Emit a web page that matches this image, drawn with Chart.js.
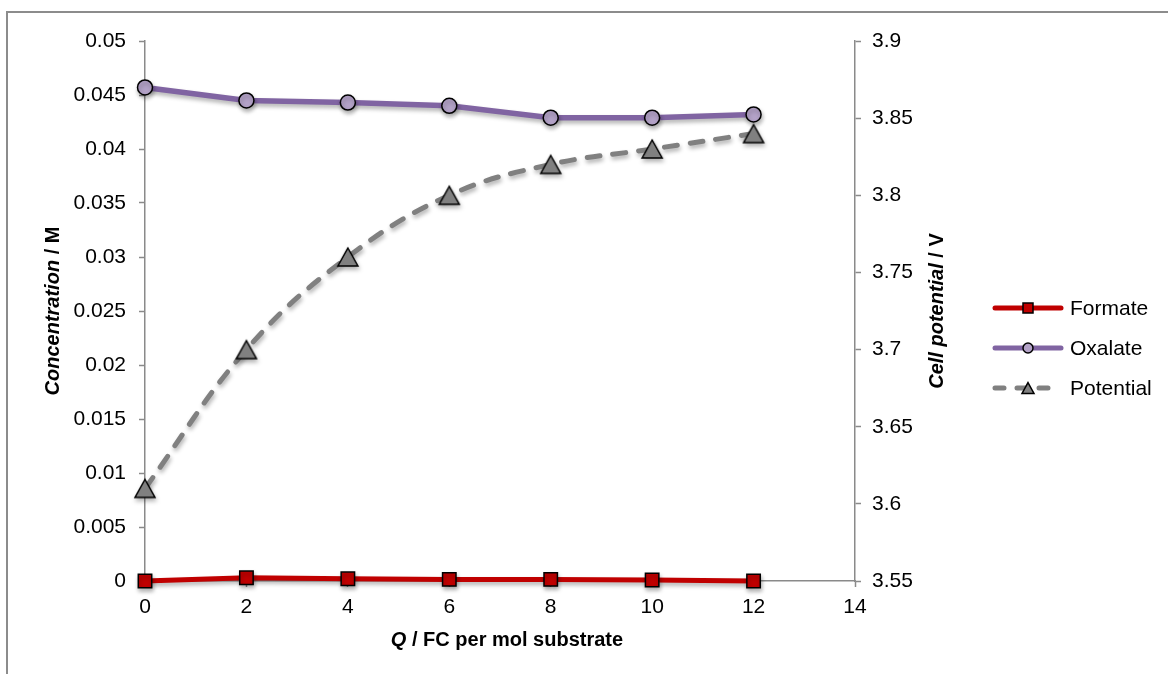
<!DOCTYPE html>
<html lang="en">
<head>
    <meta charset="UTF-8">
    <title>Concentration and cell potential vs charge</title>
    <script src="https://cdn.jsdelivr.net/npm/chart.js"></script>
    <style>
        html, body { margin: 0; padding: 0; background: #fff; }
        canvas { display: block; }
    </style>
</head>
<body>
    <canvas id="chart" width="1168" height="674"></canvas>

    <script>
        // Data
        const charge = [0, 2, 4, 6, 8, 10, 12];
        const formate = [0, 0.0003, 0.0002, 0.00015, 0.00015, 0.0001, 0];
        const oxalate = [0.0457, 0.0445, 0.0443, 0.0440, 0.0429, 0.0429, 0.0432];
        const potential = [3.61, 3.70, 3.76, 3.80, 3.82, 3.83, 3.84];

        const seriesNames = ['Formate', 'Oxalate', 'Potential'];
        const xTicks = [0, 2, 4, 6, 8, 10, 12, 14];
        const concTicks = [0, 0.005, 0.01, 0.015, 0.02, 0.025, 0.03, 0.035, 0.04, 0.045, 0.05];
        const potTicks = [3.55, 3.6, 3.65, 3.7, 3.75, 3.8, 3.85, 3.9];

        const FONT = '"Liberation Sans", Arial, sans-serif';
        const axisGrey = '#8a8a8a';
        const colors = {
            formate: '#C00000',
            oxalate: '#8064A2',
            oxalateFill: '#B3A2C7',
            potential: '#808080'
        };

        Chart.defaults.font.family = FONT;
        Chart.defaults.font.size = 21;
        Chart.defaults.color = '#000';

        const toPoints = values => charge.map((x, i) => ({ x: x, y: values[i] }));
        const fmt = v => String(+Number(v).toFixed(4));

        // Soft shadow under lines and markers, like the original
        const shadowPlugin = {
            id: 'shadow',
            beforeDatasetDraw(chart) {
                const ctx = chart.ctx;
                ctx.save();
                ctx.shadowColor = 'rgba(0,0,0,0.3)';
                ctx.shadowBlur = 4;
                ctx.shadowOffsetX = 1;
                ctx.shadowOffsetY = 3;
            },
            afterDatasetDraw(chart) {
                chart.ctx.restore();
            }
        };

        function drawMarker(ctx, style, x, y, size, fill) {
            ctx.beginPath();
            if (style === 'rect') {
                ctx.rect(x - size / 2, y - size / 2, size, size);
            } else if (style === 'circle') {
                ctx.arc(x, y, size / 2, 0, Math.PI * 2);
            } else {
                const h = size * 0.9;
                ctx.moveTo(x, y - h / 2);
                ctx.lineTo(x + size / 2, y + h / 2);
                ctx.lineTo(x - size / 2, y + h / 2);
                ctx.closePath();
            }
            ctx.fillStyle = fill;
            ctx.fill();
            ctx.lineWidth = 1.5;
            ctx.strokeStyle = '#000';
            ctx.stroke();
        }

        // triangle marker centred on its box, as in the original
        function triangleImage(size, fill) {
            const c = document.createElement('canvas');
            c.width = size + 4;
            c.height = size + 4;
            drawMarker(c.getContext('2d'), 'triangle', c.width / 2, c.height / 2, size, fill);
            return c;
        }

        // draws pieces of text with their own font, one after the other, centered on 0
        function drawMixed(ctx, parts) {
            let total = 0;
            parts.forEach(p => { ctx.font = p.font; total += ctx.measureText(p.text).width; });
            let x = -total / 2;
            parts.forEach(p => {
                ctx.font = p.font;
                ctx.fillText(p.text, x, 0);
                x += ctx.measureText(p.text).width;
            });
        }

        const decorPlugin = {
            id: 'decor',
            beforeDraw(chart) {
                const ctx = chart.ctx;
                ctx.save();
                ctx.strokeStyle = '#8c8c8c';
                ctx.lineWidth = 2;
                ctx.beginPath();
                ctx.moveTo(7, 700);
                ctx.lineTo(7, 12);
                ctx.lineTo(1200, 12);
                ctx.stroke();
                ctx.restore();
            },
            afterDraw(chart) {
                const ctx = chart.ctx;
                const area = chart.chartArea;
                const midY = (area.top + area.bottom) / 2;
                const bold = 'bold 20px ' + FONT;
                const boldItalic = 'italic bold 20px ' + FONT;

                ctx.save();
                ctx.fillStyle = '#000';
                ctx.textAlign = 'left';
                ctx.textBaseline = 'alphabetic';

                // x axis title
                ctx.save();
                ctx.translate(507, 646);
                drawMixed(ctx, [{ text: 'Q', font: boldItalic }, { text: ' / FC per mol substrate', font: bold }]);
                ctx.restore();

                // left axis title
                ctx.save();
                ctx.translate(59, midY);
                ctx.rotate(-Math.PI / 2);
                drawMixed(ctx, [{ text: 'Concentration', font: boldItalic }, { text: ' / M', font: bold }]);
                ctx.restore();

                // right axis title
                ctx.save();
                ctx.translate(943, midY);
                ctx.rotate(-Math.PI / 2);
                drawMixed(ctx, [{ text: 'Cell potential', font: boldItalic }, { text: ' / V', font: bold }]);
                ctx.restore();

                // legend
                const items = [
                    { color: colors.formate, fill: colors.formate, marker: 'rect', size: 10, dash: [] },
                    { color: colors.oxalate, fill: colors.oxalateFill, marker: 'circle', size: 10, dash: [] },
                    { color: colors.potential, fill: colors.potential, marker: 'triangle', size: 12, dash: [9, 13] }
                ];
                items.forEach((it, i) => {
                    const y = 308 + i * 40;
                    ctx.save();
                    ctx.strokeStyle = it.color;
                    ctx.lineWidth = 5;
                    ctx.lineCap = 'round';
                    ctx.setLineDash(it.dash);
                    ctx.beginPath();
                    ctx.moveTo(995, y);
                    ctx.lineTo(1061, y);
                    ctx.stroke();
                    ctx.setLineDash([]);
                    drawMarker(ctx, it.marker, 1028, y, it.size, it.fill);
                    ctx.restore();

                    ctx.font = '21px ' + FONT;
                    ctx.textBaseline = 'middle';
                    ctx.fillStyle = '#000';
                    ctx.fillText(seriesNames[i], 1070, y + 1);
                });
                ctx.restore();
            }
        };

        const tickGrid = {
            drawOnChartArea: false,
            drawTicks: true,
            tickLength: 6,
            tickColor: axisGrey,
            tickWidth: 1.5
        };

        const ctx = document.getElementById('chart').getContext('2d');
        const chart = new Chart(ctx, {
            type: 'line',
            data: {
                datasets: [
                    {
                        label: seriesNames[0],
                        data: toPoints(formate),
                        yAxisID: 'y',
                        borderColor: colors.formate,
                        backgroundColor: colors.formate,
                        borderWidth: 5,
                        pointStyle: 'rect',
                        pointRadius: 9.5,
                        pointBackgroundColor: colors.formate,
                        pointBorderColor: '#000',
                        pointBorderWidth: 1.5,
                        tension: 0,
                        clip: false,
                        order: 2
                    },
                    {
                        label: seriesNames[1],
                        data: toPoints(oxalate),
                        yAxisID: 'y',
                        borderColor: colors.oxalate,
                        backgroundColor: colors.oxalateFill,
                        borderWidth: 5.5,
                        pointStyle: 'circle',
                        pointRadius: 7.5,
                        pointBackgroundColor: colors.oxalateFill,
                        pointBorderColor: '#000',
                        pointBorderWidth: 1.5,
                        tension: 0,
                        clip: false,
                        order: 1
                    },
                    {
                        label: seriesNames[2],
                        data: toPoints(potential),
                        yAxisID: 'y2',
                        borderColor: colors.potential,
                        backgroundColor: colors.potential,
                        borderWidth: 5,
                        borderDash: [13, 13],
                        borderCapStyle: 'round',
                        pointStyle: triangleImage(20, colors.potential),
                        pointRadius: 11,
                        tension: 0.4,
                        clip: false,
                        order: 0
                    }
                ]
            },
            options: {
                responsive: false,
                animation: false,
                layout: { padding: { top: 41, left: 0, right: 213, bottom: 0 } },
                plugins: {
                    legend: { display: false },
                    tooltip: { enabled: false }
                },
                scales: {
                    x: {
                        type: 'linear',
                        min: 0,
                        max: 14,
                        afterBuildTicks: s => { s.ticks = xTicks.map(v => ({ value: v })); },
                        afterFit: s => { s.height = 93; },
                        grid: tickGrid,
                        border: { color: axisGrey, width: 1.5 },
                        ticks: { padding: 8, autoSkip: false, maxRotation: 0, callback: fmt }
                    },
                    y: {
                        type: 'linear',
                        position: 'left',
                        min: 0,
                        max: 0.05,
                        afterBuildTicks: s => { s.ticks = concTicks.map(v => ({ value: v })); },
                        afterFit: s => { s.width = 145; },
                        grid: tickGrid,
                        border: { color: axisGrey, width: 1.5 },
                        ticks: { padding: 13, autoSkip: false, callback: fmt }
                    },
                    y2: {
                        type: 'linear',
                        position: 'right',
                        min: 3.55,
                        max: 3.9,
                        afterBuildTicks: s => { s.ticks = potTicks.map(v => ({ value: v })); },
                        afterFit: s => { s.width = 100; },
                        grid: tickGrid,
                        border: { color: axisGrey, width: 1.5 },
                        ticks: { padding: 11, autoSkip: false, callback: fmt }
                    }
                }
            },
            plugins: [shadowPlugin, decorPlugin]
        });
    </script>
</body>
</html>
